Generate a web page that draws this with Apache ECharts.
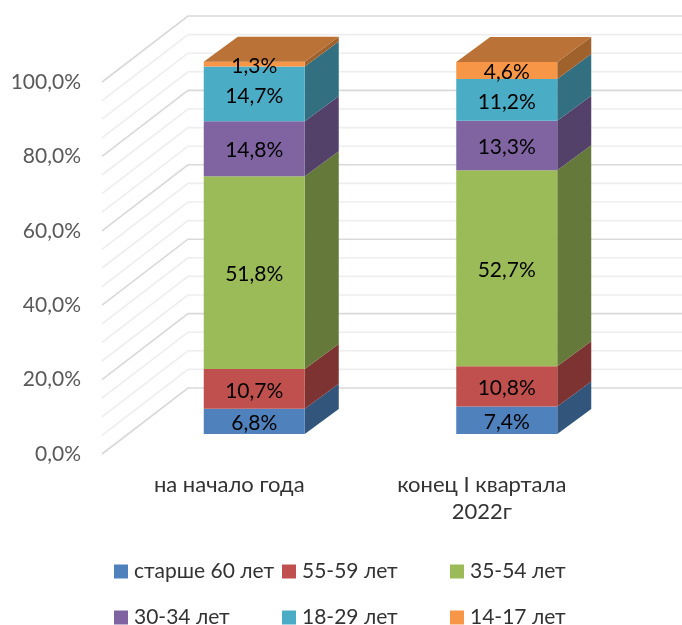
<!DOCTYPE html>
<html>
<head>
<meta charset="utf-8">
<script src="https://cdn.jsdelivr.net/npm/echarts@6/dist/echarts.min.js"></script>
<style>
html, body { margin: 0; padding: 0; background: #fff; }
#chart { width: 682px; height: 625px; }
</style>
</head>
<body>
<div id="chart"></div>
<script>
var categories = ['на начало года', 'конец I квартала\n2022г']
var groups = ['старше 60 лет', '55-59 лет', '35-54 лет', '30-34 лет', '18-29 лет', '14-17 лет']
var older60 = [6.8, 7.4]
var age55 = [10.7, 10.8]
var age35 = [51.8, 52.7]
var age30 = [14.8, 13.3]
var age18 = [14.7, 11.2]
var age14 = [1.3, 4.6]
var wallTicks = [0, 5, 10, 15, 20, 25, 30, 35, 40, 45, 50, 55, 60, 65, 70, 75, 80, 85, 90, 95, 100]

var values = [older60, age55, age35, age30, age18, age14]
var frontColors = ['#4F81BD', '#C0504D', '#9BBB59', '#8064A2', '#4BACC6', '#F79646']
var sideColors = ['#32557C', '#7D3331', '#657A3A', '#53416A', '#316F81', '#A0622D']
var topColor = '#BA7236'

var FONT = 'Lato, Carlito, "Open Sans", sans-serif'
// wall depth and where the bars stand inside it, px
var WALL_DX = 86, WALL_DY = -66
var BAR_DX = 25, BAR_DY = -20
var SIDE_DX = 34, SIDE_DY = -25

function pct(v) {
    return v.toFixed(1).replace('.', ',') + '%'
}

function renderWall(params, api) {
    var v = api.value(1)
    var sys = params.coordSys
    var y = api.coord([0, v])[1]
    var major = v % 20 === 0
    return {
        type: 'polyline',
        silent: true,
        shape: {
            points: [[sys.x - 1, y], [sys.x + WALL_DX - 1, y + WALL_DY], [682, y + WALL_DY]]
        },
        style: {
            fill: null,
            stroke: major ? '#D9D9D9' : '#EEEEEE',
            lineWidth: 1.6
        }
    }
}

function renderBar(params, api) {
    var s = params.seriesIndex - 1
    var lo = api.coord([api.value(0), api.value(1)])
    var hi = api.coord([api.value(0), api.value(2)])
    var w = api.size([1, 0])[0] * 0.4
    var x0 = lo[0] - w / 2 + BAR_DX
    var x1 = x0 + w
    var y0 = lo[1] + BAR_DY
    var y1 = hi[1] + BAR_DY
    var kids = [
        {
            type: 'polygon',
            shape: { points: [[x1, y0], [x1 + SIDE_DX, y0 + SIDE_DY], [x1 + SIDE_DX, y1 + SIDE_DY], [x1, y1]] },
            style: { fill: sideColors[s] }
        },
        {
            type: 'rect',
            shape: { x: x0, y: y1, width: w, height: y0 - y1 },
            style: { fill: frontColors[s] }
        }
    ]
    if (s === groups.length - 1) {
        kids.push({
            type: 'polygon',
            shape: { points: [[x0, y1], [x0 + SIDE_DX, y1 + SIDE_DY], [x1 + SIDE_DX, y1 + SIDE_DY], [x1, y1]] },
            style: { fill: topColor }
        })
    }
    kids.push({
        type: 'text',
        z2: 10,
        style: {
            x: (x0 + x1) / 2,
            y: (y0 + y1) / 2 + 2,
            text: pct(api.value(3)),
            align: 'center',
            verticalAlign: 'middle',
            font: '21px ' + FONT,
            fill: '#000'
        }
    })
    return { type: 'group', silent: true, children: kids }
}

function buildSeries() {
    var list = [{
        name: 'wall',
        type: 'custom',
        renderItem: renderWall,
        encode: { x: 0, y: 1 },
        data: wallTicks.map(function(v) { return [0, v] })
    }]
    var base = categories.map(function() { return 0 })
    for (var i = 0; i < groups.length; i++) {
        var data = []
        for (var c = 0; c < categories.length; c++) {
            data.push([c, base[c], base[c] + values[i][c], values[i][c]])
            base[c] += values[i][c]
        }
        list.push({
            name: groups[i],
            type: 'custom',
            renderItem: renderBar,
            encode: { x: 0, y: [1, 2] },
            itemStyle: { color: frontColors[i] },
            data: data
        })
    }
    return list
}

function legendItem(name, left, top) {
    return {
        data: [name],
        left: left,
        top: top,
        padding: 0,
        icon: 'rect',
        itemWidth: 14,
        itemHeight: 14,
        itemGap: 0,
        selectedMode: false,
        textStyle: { fontFamily: FONT, fontSize: 21, color: '#333', padding: [3, 0, 0, 1] }
    }
}

var chart = echarts.init(document.getElementById('chart'))
chart.setOption({
    animation: false,
    backgroundColor: '#fff',
    grid: { left: 103, top: 82, width: 505, height: 372 },
    xAxis: {
        type: 'category',
        data: categories,
        axisLine: { show: false },
        axisTick: { show: false },
        axisLabel: {
            margin: 17,
            interval: 0,
            fontFamily: FONT,
            fontSize: 22,
            lineHeight: 27,
            color: '#333'
        }
    },
    yAxis: {
        type: 'value',
        min: 0,
        max: 100,
        interval: 20,
        axisLine: { show: false },
        axisTick: { show: false },
        splitLine: { show: false },
        axisLabel: {
            margin: 22,
            padding: [6, 0, 0, 0],
            fontFamily: FONT,
            fontSize: 21,
            color: '#595959',
            formatter: function(v) { return pct(v) }
        }
    },
    legend: [
        legendItem(groups[0], 114, 561),
        legendItem(groups[1], 282, 561),
        legendItem(groups[2], 450, 561),
        legendItem(groups[3], 114, 607),
        legendItem(groups[4], 282, 607),
        legendItem(groups[5], 450, 607)
    ],
    series: buildSeries()
})
</script>
</body>
</html>
